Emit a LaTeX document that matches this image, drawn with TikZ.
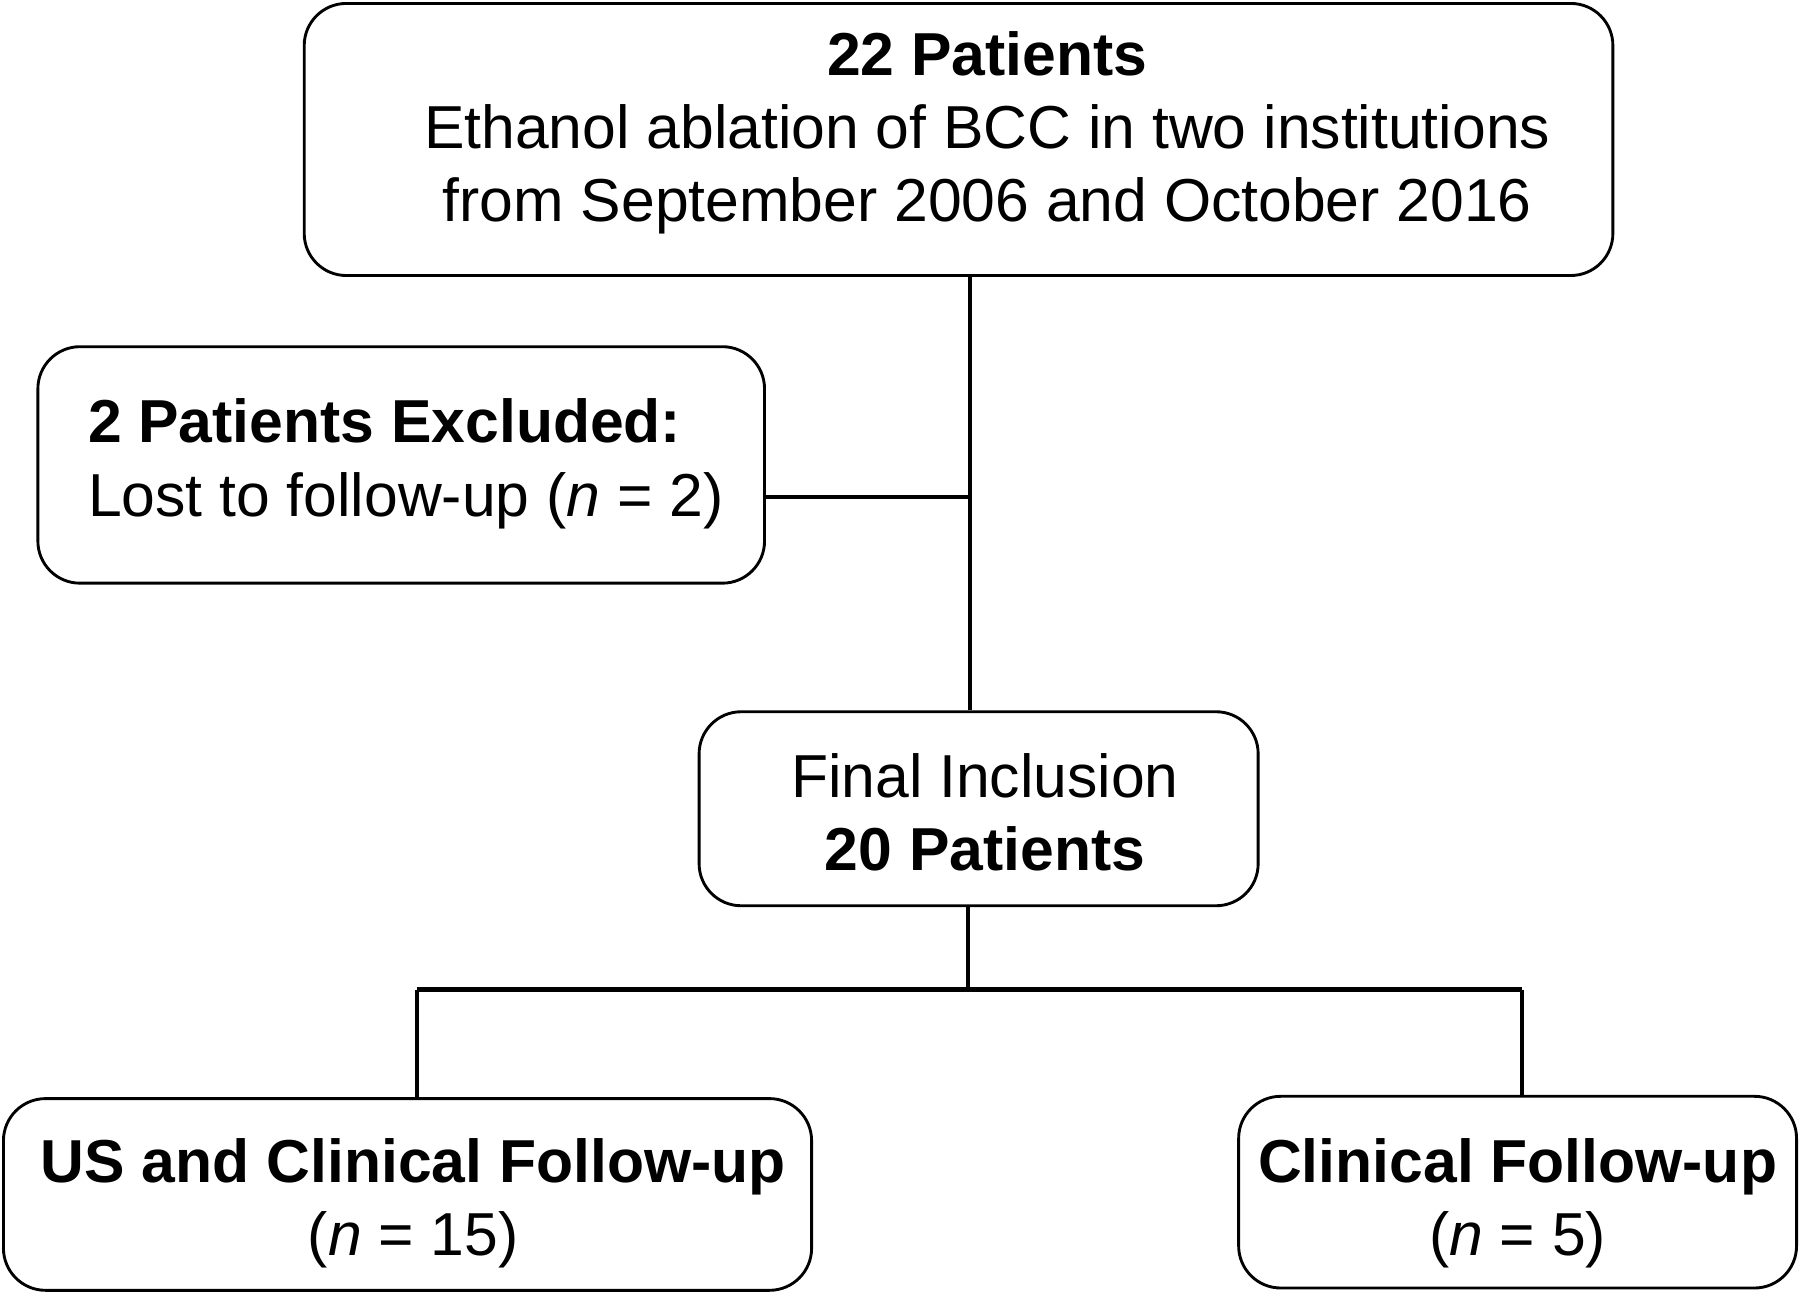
\documentclass[tikz,border=0pt]{standalone}
\usepackage{fontspec}
\setmainfont{Liberation Sans}
\begin{document}
\begin{tikzpicture}[x=0.3pt, y=-0.3pt,
  font=\fontsize{15.85}{19.1}\selectfont,
  box/.style={draw, line width=0.75pt, rounded corners=11pt, inner sep=0pt},
  txt/.style={align=center, inner sep=0pt},
  conn/.style={line width=1.1pt}]
\useasboundingbox (0,0) rectangle (1568,1128);

% boxes
\node[box, minimum width=1140*0.3pt, minimum height=237*0.3pt] (top) at (835,121.5) {};
\node[box, minimum width=633*0.3pt, minimum height=206*0.3pt] (excl) at (349.5,405) {};
\node[box, minimum width=487*0.3pt, minimum height=169*0.3pt] (fin) at (852.5,704.5) {};
\node[box, minimum width=704*0.3pt, minimum height=167*0.3pt] (usb) at (355,1040.5) {};
\node[box, minimum width=486*0.3pt, minimum height=167*0.3pt] (clb) at (1322,1038.5) {};

% texts
\node[txt] (toptxt) at (860,116) {\textbf{22 Patients}\\Ethanol ablation of BCC in two institutions\\from September 2006 and October 2016};
\node[txt, align=left, anchor=west] (excltxt) at (76,404) {\textbf{2 Patients Excluded:}\\Lost to follow-up (\textit{n} = 2)};
\node[txt] (fintxt) at (858,708) {Final Inclusion\\\textbf{20 Patients}};
\node[txt] (ustxt) at (360,1048) {\textbf{US and Clinical Follow-up}\\(\textit{n} = 15)};
\node[txt] (cltxt) at (1322,1048) {\textbf{Clinical Follow-up}\\(\textit{n} = 5)};

% connectors
\coordinate (j1) at (845,433);
\coordinate (busM) at (843,862);
\coordinate (busL) at (363,862);
\coordinate (busR) at (1326,862);

\draw[conn] (top.south -| j1) -- (j1 |- fin.north);
\draw[conn] (excl.east |- j1) -- (j1);
\draw[conn] (fin.south -| busM) -- (busM);
\draw[conn] (busL) -- (busR);
\draw[conn] (busL) -- (busL |- usb.north);
\draw[conn] (busR) -- (busR |- clb.north);

\end{tikzpicture}
\end{document}
